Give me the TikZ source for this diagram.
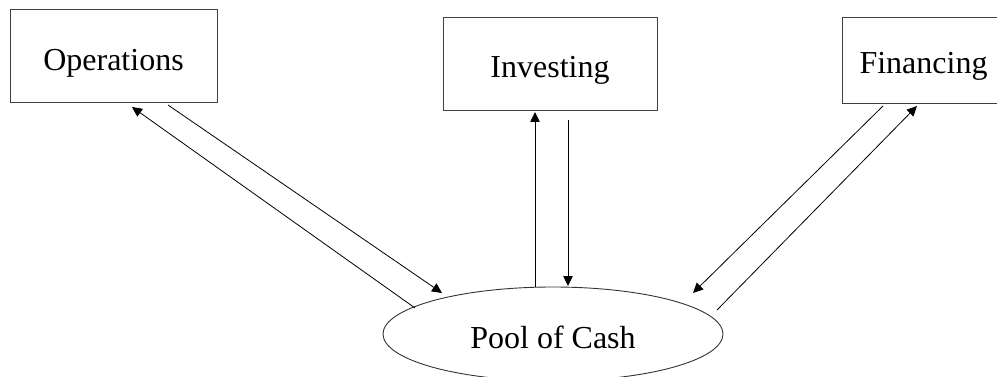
\documentclass[tikz,border=0pt]{standalone}
\usepackage{fontspec}
\setmainfont{Liberation Serif}
\usepackage{tikz}
\usetikzlibrary{arrows.meta,shapes.geometric}
\tikzset{
  bx/.style={draw=black!75, line width=0.9pt, inner sep=0pt, text depth=0pt, font=\fontsize{32}{38}\selectfont},
  pool/.style={ellipse, draw=black!80, line width=0.9pt, inner sep=0pt, text depth=0pt, font=\fontsize{32}{38}\selectfont},
  flw/.style={-{Triangle[length=10pt,width=9.5pt]}, line width=0.8pt},
}
\begin{document}
\begin{tikzpicture}[x=1pt,y=-1pt]
  \useasboundingbox (0,0) rectangle (997,377);
  % boxes and pool
  \node[bx, minimum width=207pt, minimum height=93pt, text height=31pt] (ops) at (113.5,55.5) {Operations};
  \node[bx, minimum width=214pt, minimum height=93pt, text height=29pt] (inv) at (550,63.5) {Investing};
  \node[bx, minimum width=163pt, minimum height=86pt, text height=28pt] (fin) at (923.5,60) {Financing};
  \node[pool, minimum width=340pt, minimum height=94pt, text height=28pt] (cash) at (553,334) {Pool of Cash};
  % arrow ends
  \coordinate (opsIn) at (132,107);
  \coordinate (opsOut) at (168,105);
  \coordinate (cashOpsOut) at (415,308);
  \coordinate (cashOpsIn) at (442,293);
  \coordinate (invIn) at (535,112);
  \coordinate (invOut) at (568,120);
  \coordinate (cashInvOut) at (535,287);
  \coordinate (cashInvIn) at (568,286);
  \coordinate (finOut) at (883,106);
  \coordinate (finIn) at (917,106);
  \coordinate (cashFinIn) at (693,293);
  \coordinate (cashFinOut) at (717,310);
  % flows
  \draw[flw] (cashOpsOut) -- (opsIn);
  \draw[flw] (opsOut) -- (cashOpsIn);
  \draw[flw] (cashInvOut) -- (invIn);
  \draw[flw] (invOut) -- (cashInvIn);
  \draw[flw] (finOut) -- (cashFinIn);
  \draw[flw] (cashFinOut) -- (finIn);
\end{tikzpicture}
\end{document}
